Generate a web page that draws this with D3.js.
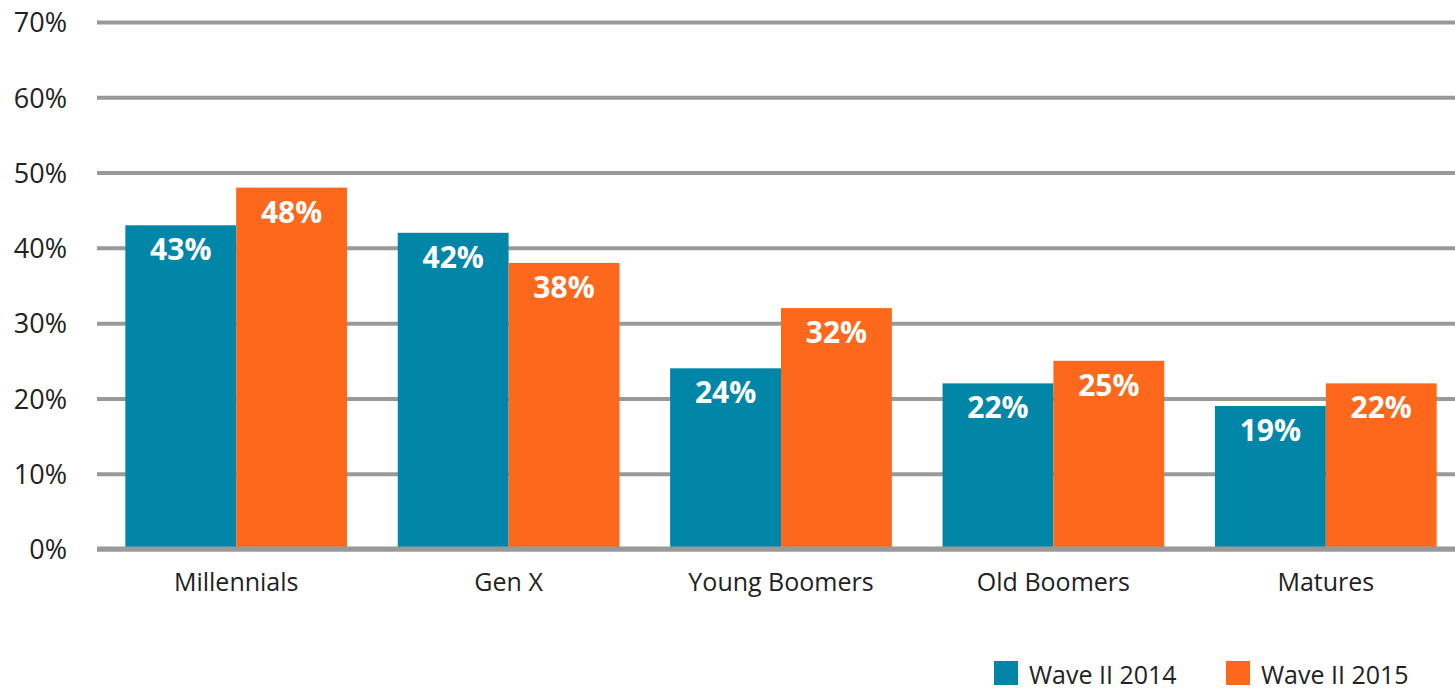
<!DOCTYPE html>
<html>
<head>
<meta charset="utf-8">
<script src="https://cdn.jsdelivr.net/npm/d3@7"></script>
<style>
  html, body { margin: 0; padding: 0; background: #fff; }
  svg { display: block; }
  text { font-family: "Open Sans", "Noto Sans", sans-serif; }
</style>
</head>
<body>
<svg id="chart" width="1455" height="691"></svg>
<script>
// Share of respondents by generation, two survey waves
const categories = ["Millennials", "Gen X", "Young Boomers", "Old Boomers", "Matures"];
const seriesNames = ["Wave II 2014", "Wave II 2015"];
const wave2014 = [43, 42, 24, 22, 19];
const wave2015 = [48, 38, 32, 25, 22];
const yTicks = [0, 10, 20, 30, 40, 50, 60, 70];
const colors = ["#0286a8", "#fd681d"];

const series = [wave2014, wave2015];
const rows = categories.map((c, i) => ({
  category: c,
  values: series.map((s, k) => ({ key: seriesNames[k], value: s[i], k }))
}));

const svg = d3.select("#chart");
const W = 1455, H = 691;

const x0 = d3.scaleBand()
  .domain(categories)
  .range([100, 1462])
  .paddingInner(0.186)
  .paddingOuter(0.093);

const x1 = d3.scaleBand()
  .domain(seriesNames)
  .range([0, x0.bandwidth()])
  .padding(0);

const y = d3.scaleLinear()
  .domain([0, 70])
  .range([549, 22]);

// Horizontal gridlines with percent labels
const grid = svg.append("g")
  .attr("transform", "translate(97,0)")
  .call(d3.axisLeft(y)
    .tickValues(yTicks)
    .tickSize(-(W - 97))
    .tickPadding(30)
    .tickFormat(d => d + "%"));
grid.select(".domain").remove();
grid.selectAll(".tick line")
  .attr("stroke", "#999")
  .attr("stroke-width", 4);
grid.selectAll(".tick text")
  .attr("fill", "#222")
  .attr("font-size", 27)
  .attr("dy", "0.36em");

// Grouped bars
const groups = svg.append("g")
  .selectAll("g")
  .data(rows)
  .join("g")
  .attr("transform", d => `translate(${x0(d.category)},0)`);

groups.selectAll("rect")
  .data(d => d.values)
  .join("rect")
  .attr("x", d => x1(d.key))
  .attr("y", d => y(d.value))
  .attr("width", x1.bandwidth())
  .attr("height", d => y(0) - y(d.value))
  .attr("fill", d => colors[d.k]);

// Value labels inside the top of each bar
groups.selectAll("text.value")
  .data(d => d.values)
  .join("text")
  .attr("class", "value")
  .attr("x", d => x1(d.key) + x1.bandwidth() / 2)
  .attr("y", d => y(d.value) + 35)
  .attr("text-anchor", "middle")
  .attr("fill", "#fff")
  .attr("font-size", 30)
  .attr("font-weight", 700)
  .text(d => d.value + "%");

// Baseline over the bar bottoms
svg.append("line")
  .attr("x1", 97).attr("x2", W)
  .attr("y1", y(0)).attr("y2", y(0))
  .attr("stroke", "#999")
  .attr("stroke-width", 5);

// Category labels
const xAxis = svg.append("g")
  .attr("transform", `translate(0,${y(0)})`)
  .call(d3.axisBottom(x0).tickSize(0).tickPadding(24));
xAxis.select(".domain").remove();
xAxis.selectAll(".tick text")
  .attr("fill", "#222")
  .attr("font-size", 25);

// Legend
const legendItems = [
  { name: seriesNames[0], color: colors[0], x: 994 },
  { name: seriesNames[1], color: colors[1], x: 1226 }
];
const legend = svg.append("g");
legendItems.forEach(item => {
  legend.append("rect")
    .attr("x", item.x).attr("y", 661)
    .attr("width", 24).attr("height", 24)
    .attr("fill", item.color);
  legend.append("text")
    .attr("x", item.x + 35).attr("y", 684)
    .attr("fill", "#222")
    .attr("font-size", 25)
    .text(item.name);
});
</script>
</body>
</html>
